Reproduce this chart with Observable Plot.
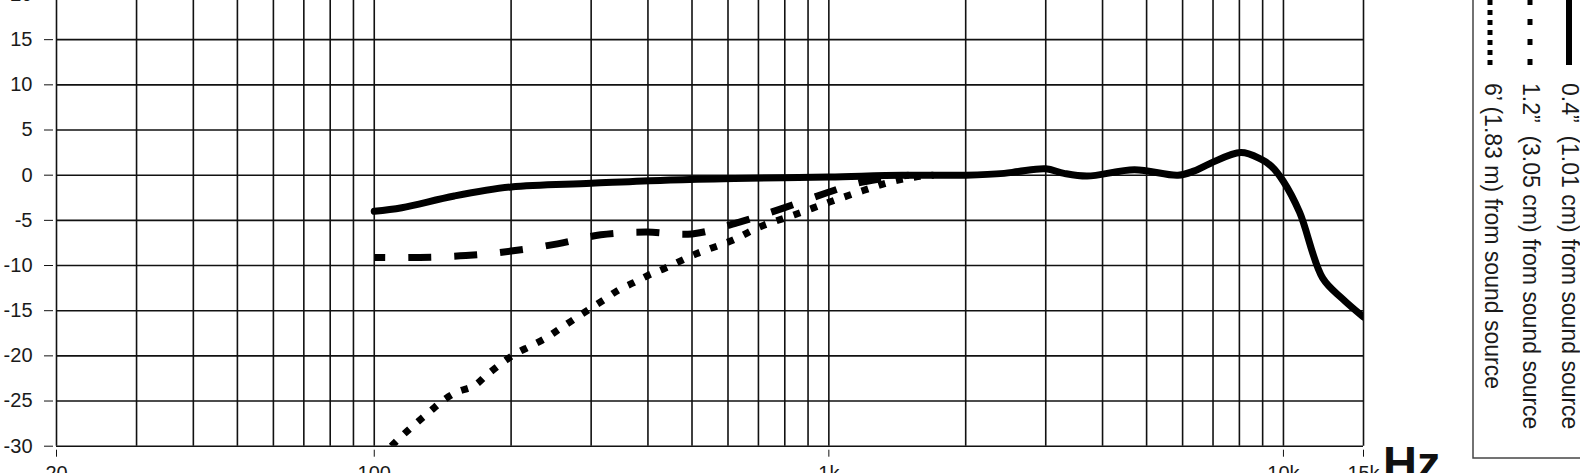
<!DOCTYPE html>
<html><head><meta charset="utf-8">
<script src="https://cdn.jsdelivr.net/npm/d3@7"></script>
<script src="https://cdn.jsdelivr.net/npm/@observablehq/plot@0.6"></script>
<style>
html,body{margin:0;padding:0;background:#fff;overflow:hidden;width:1580px;height:473px;}
#wrap{position:relative;width:1580px;height:473px;overflow:hidden;background:#fff;}
#chart{position:absolute;left:0;top:-16px;}
#overlay{position:absolute;left:0;top:0;pointer-events:none;}
</style></head>
<body><div id="wrap"><div id="chart"></div><svg id="overlay" width="1580" height="473"></svg></div>
<script>
// grid / ticks
const freqGrid = [20,30,40,50,60,70,80,90,100,200,300,400,500,600,700,800,900,1000,2000,3000,4000,5000,6000,7000,8000,9000,10000,15000];
const dbGrid = [-30,-25,-20,-15,-10,-5,0,5,10,15,20];
const xTicks = [20,100,1000,10000,15000];
const xTickLabels = ["20","100","1k","10k","15k"];

// 0.4" (1.01 cm) from sound source
const solidFreq = [100,115,150,200,300,436,620,1000,1450,2000,2430,2610,3000,3290,3700,4700,5860,6350,6900,8060,8900,9400,10000,10850,12200,13500,15000];
const solidDb   = [-4.0,-3.6,-2.3,-1.3,-0.9,-0.55,-0.37,-0.2,0.0,0.0,0.2,0.4,0.7,0.2,-0.1,0.6,0.0,0.45,1.3,2.5,1.8,1.0,-0.7,-4.1,-11.4,-13.7,-15.7];

// 1.2" (3.05 cm) from sound source
const dashFreq = [100,126,159,200,253,315,396,500,636,788,983,1150,1300,1500];
const dashDb   = [-9.1,-9.1,-8.9,-8.4,-7.6,-6.6,-6.3,-6.5,-5.2,-3.7,-2.0,-0.9,-0.4,0.0];

// 6' (1.83 m) from sound source
const dotFreq = [109,116,124,133,142,152,166,177,191,204,221,239,256,276,298,320,345,372,400,436,511,614,706,838,1000,1190,1370,1550,1700];
const dotDb   = [-30,-28.7,-27.4,-26.1,-24.9,-24.0,-23.3,-22.1,-20.8,-19.8,-18.9,-18.0,-17.0,-15.9,-14.8,-13.8,-12.7,-11.9,-11.1,-10.3,-8.7,-7.2,-5.7,-4.4,-3.0,-1.7,-0.74,-0.2,0.0];

const legendLabels = ["0.4\u201D  (1.01 cm) from sound source","1.2\u201D  (3.05 cm) from sound source","6\u2019 (1.83 m) from sound source"];
const unitLabel = "Hz";

const toRows = (fs, ds) => fs.map((f, i) => ({f, db: ds[i]}));
const solid = toRows(solidFreq, solidDb);
const dashed = toRows(dashFreq, dashDb);
const dotted = toRows(dotFreq, dotDb);
const labelOf = new Map(xTicks.map((t, i) => [t, xTickLabels[i]]));

const ink = "#111";
const chart = Plot.plot({
  width: 1580,
  height: 520,
  marginLeft: 56,
  marginRight: 217,
  marginTop: 10,
  marginBottom: 58.3,
  style: {fontFamily: "'Liberation Sans', Arial, sans-serif", fontSize: "20px", color: "#1a1a1a", background: "transparent"},
  x: {type: "log", domain: [20, 15000]},
  y: {domain: [-30, 20]},
  marks: [
    Plot.ruleX(freqGrid, {stroke: ink, strokeWidth: 1.6}),
    Plot.ruleY(dbGrid, {stroke: ink, strokeWidth: 1.6}),
    Plot.line(dotted, {x: "f", y: "db", stroke: "#000", strokeWidth: 7, strokeDasharray: "7,11", strokeLinecap: "butt", curve: "catmull-rom", clip: true}),
    Plot.line(dashed, {x: "f", y: "db", stroke: "#000", strokeWidth: 7, strokeDasharray: "23,23", strokeDashoffset: 12, strokeLinecap: "butt", curve: "catmull-rom", clip: true}),
    Plot.line(solid, {x: "f", y: "db", stroke: "#000", strokeWidth: 7, curve: "catmull-rom", clip: true}),
    Plot.axisY({ticks: dbGrid, tickFormat: d => String(d), tickSize: 9, tickPadding: 12, dx: -3, label: null, fontSize: 20, stroke: ink}),
    Plot.axisX({ticks: xTicks, tickFormat: d => labelOf.get(d), tickSize: 7, tickPadding: 9, dy: 4, label: null, fontSize: 20, stroke: ink})
  ]
});
document.getElementById("chart").appendChild(chart);

// legend + unit (overlay)
const ov = d3.select("#overlay");
ov.append("rect").attr("x", 1473).attr("y", -20).attr("width", 140).attr("height", 478)
  .attr("fill", "none").attr("stroke", "#444").attr("stroke-width", 1.5);
const sym = [
  {x: 1569, w: 6, dash: null},
  {x: 1530, w: 5, dash: "6,14"},
  {x: 1490, w: 5, dash: "5,5"}
];
sym.forEach(s => {
  const l = ov.append("line").attr("x1", s.x).attr("x2", s.x).attr("y1", 65).attr("y2", -20)
    .attr("stroke", "#000").attr("stroke-width", s.w);
  if (s.dash) l.attr("stroke-dasharray", s.dash);
});
const base = [1562, 1523, 1485];
legendLabels.forEach((t, i) => {
  ov.append("text").attr("transform", `translate(${base[i]},83) rotate(90)`)
    .attr("font-family", "'Liberation Sans', Arial, sans-serif").attr("font-size", 23)
    .attr("fill", "#1a1a1a").style("white-space", "pre").text(t);
});
ov.append("text").attr("x", 1383).attr("y", 479)
  .attr("font-family", "'Liberation Sans', Arial, sans-serif").attr("font-size", 47).attr("font-weight", "bold")
  .attr("fill", "#111").text(unitLabel);
</script>
</body></html>
